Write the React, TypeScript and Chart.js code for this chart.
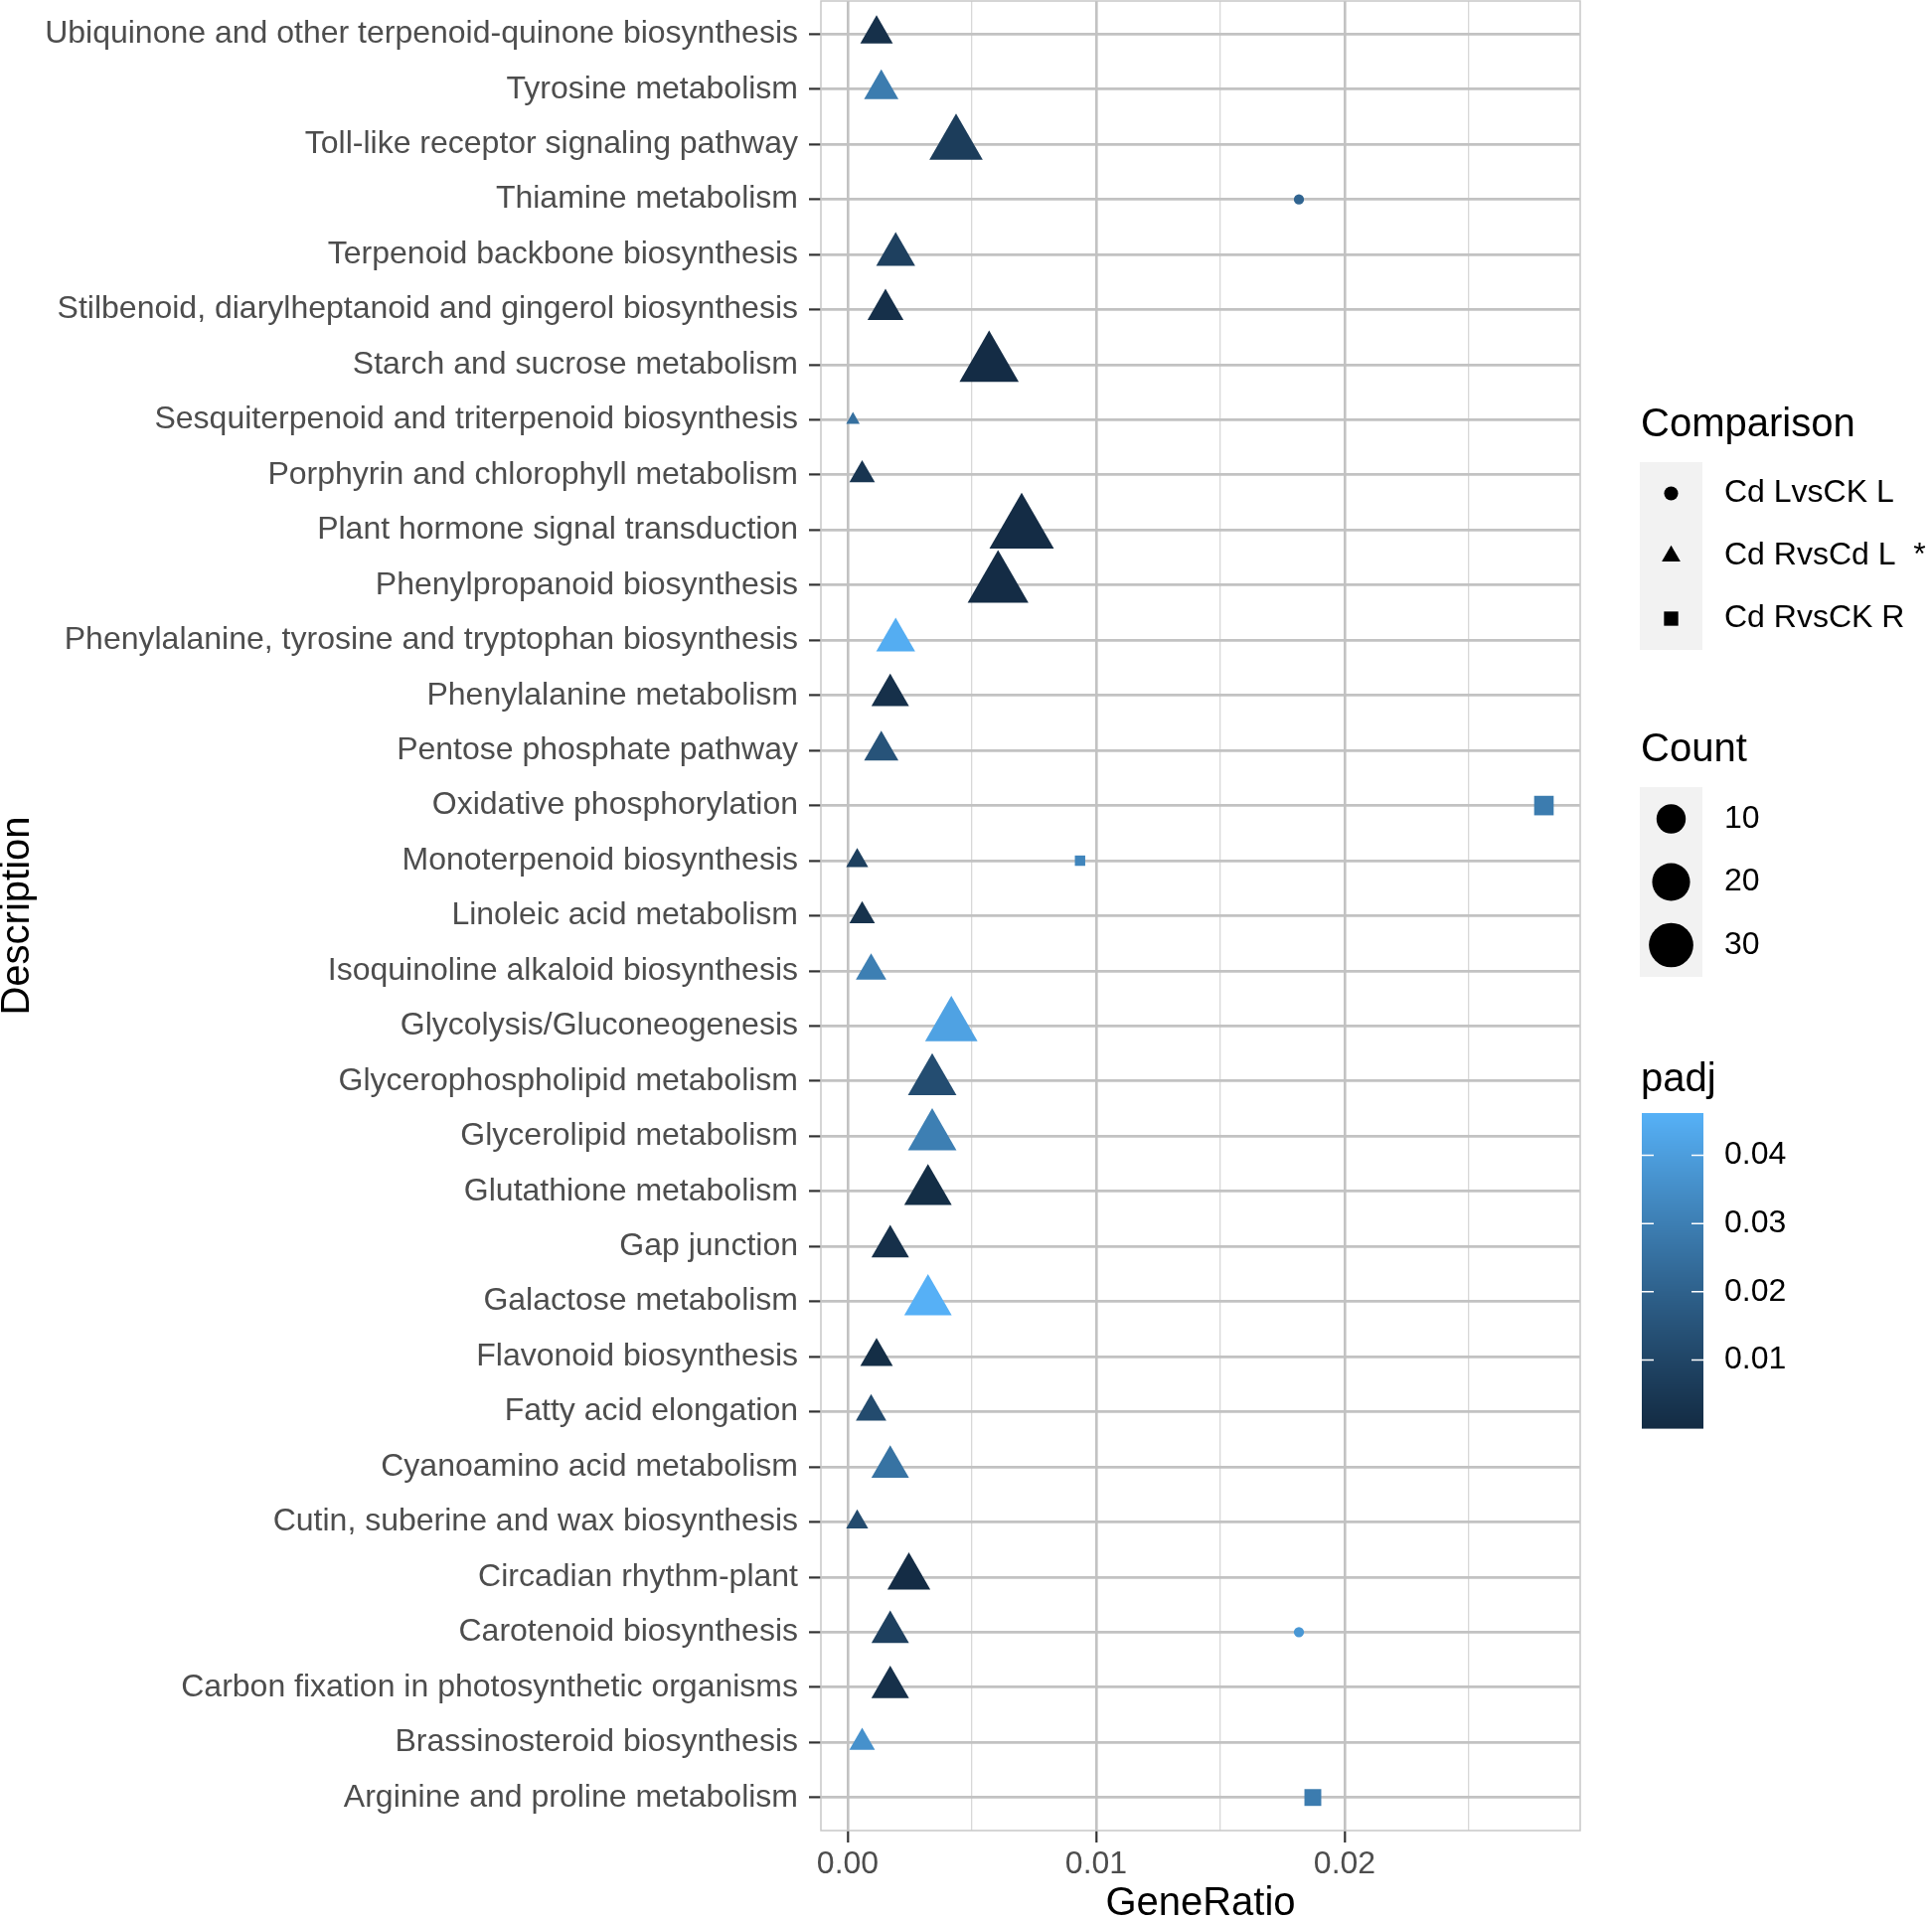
import React, { useEffect, useRef } from "react";
import { Chart, registerables } from "chart.js";

Chart.register(...registerables);

const FONT = "'Liberation Sans', Arial, Helvetica, sans-serif";

// Categories, bottom (y = 1) to top (y = 33)
const descriptions: string[] = [
  "Arginine and proline metabolism",
  "Brassinosteroid biosynthesis",
  "Carbon fixation in photosynthetic organisms",
  "Carotenoid biosynthesis",
  "Circadian rhythm-plant",
  "Cutin, suberine and wax biosynthesis",
  "Cyanoamino acid metabolism",
  "Fatty acid elongation",
  "Flavonoid biosynthesis",
  "Galactose metabolism",
  "Gap junction",
  "Glutathione metabolism",
  "Glycerolipid metabolism",
  "Glycerophospholipid metabolism",
  "Glycolysis/Gluconeogenesis",
  "Isoquinoline alkaloid biosynthesis",
  "Linoleic acid metabolism",
  "Monoterpenoid biosynthesis",
  "Oxidative phosphorylation",
  "Pentose phosphate pathway",
  "Phenylalanine metabolism",
  "Phenylalanine, tyrosine and tryptophan biosynthesis",
  "Phenylpropanoid biosynthesis",
  "Plant hormone signal transduction",
  "Porphyrin and chlorophyll metabolism",
  "Sesquiterpenoid and triterpenoid biosynthesis",
  "Starch and sucrose metabolism",
  "Stilbenoid, diarylheptanoid and gingerol biosynthesis",
  "Terpenoid backbone biosynthesis",
  "Thiamine metabolism",
  "Toll-like receptor signaling pathway",
  "Tyrosine metabolism",
  "Ubiquinone and other terpenoid-quinone biosynthesis",
];

// Comparison "Cd RvsCd L" (triangles)
const triDesc: string[] = [
  "Ubiquinone and other terpenoid-quinone biosynthesis",
  "Tyrosine metabolism",
  "Toll-like receptor signaling pathway",
  "Terpenoid backbone biosynthesis",
  "Stilbenoid, diarylheptanoid and gingerol biosynthesis",
  "Starch and sucrose metabolism",
  "Sesquiterpenoid and triterpenoid biosynthesis",
  "Porphyrin and chlorophyll metabolism",
  "Plant hormone signal transduction",
  "Phenylpropanoid biosynthesis",
  "Phenylalanine, tyrosine and tryptophan biosynthesis",
  "Phenylalanine metabolism",
  "Pentose phosphate pathway",
  "Monoterpenoid biosynthesis",
  "Linoleic acid metabolism",
  "Isoquinoline alkaloid biosynthesis",
  "Glycolysis/Gluconeogenesis",
  "Glycerophospholipid metabolism",
  "Glycerolipid metabolism",
  "Glutathione metabolism",
  "Gap junction",
  "Galactose metabolism",
  "Flavonoid biosynthesis",
  "Fatty acid elongation",
  "Cyanoamino acid metabolism",
  "Cutin, suberine and wax biosynthesis",
  "Circadian rhythm-plant",
  "Carotenoid biosynthesis",
  "Carbon fixation in photosynthetic organisms",
  "Brassinosteroid biosynthesis",
];
const triRatio: number[] = [
  0.00116, 0.00135, 0.00436, 0.00193, 0.00152, 0.00569, 0.00021, 0.00058, 0.007, 0.00605,
  0.00193, 0.00171, 0.00135, 0.00038, 0.00058, 0.00094, 0.00417, 0.0034, 0.0034, 0.00323,
  0.00171, 0.00323, 0.00116, 0.00094, 0.00171, 0.00038, 0.00246, 0.00171, 0.00171, 0.00058,
];
const triCount: number[] = [
  6, 7, 23, 10, 8, 30, 1, 3, 37, 32,
  10, 9, 7, 2, 3, 5, 22, 18, 18, 17,
  9, 17, 6, 5, 9, 2, 13, 9, 9, 3,
];
const triPadj: number[] = [
  0.002, 0.029, 0.007, 0.008, 0.002, 0.0005, 0.025, 0.004, 0.0005, 0.0005,
  0.045, 0.002, 0.015, 0.008, 0.003, 0.03, 0.0415, 0.013, 0.03, 0.001,
  0.002, 0.046, 0.001, 0.012, 0.026, 0.012, 0.0005, 0.008, 0.002, 0.036,
];

// Comparison "Cd LvsCK L" (circles)
const circDesc: string[] = ["Thiamine metabolism", "Carotenoid biosynthesis"];
const circRatio: number[] = [0.01816, 0.01816];
const circCount: number[] = [1, 1];
const circPadj: number[] = [0.021, 0.038];

// Comparison "Cd RvsCK R" (squares)
const sqDesc: string[] = ["Oxidative phosphorylation", "Monoterpenoid biosynthesis", "Arginine and proline metabolism"];
const sqRatio: number[] = [0.02802, 0.00935, 0.01872];
const sqCount: number[] = [3, 1, 2];
const sqPadj: number[] = [0.029, 0.032, 0.029];

// Scales / legends
const xMajorTicks: number[] = [0, 0.01, 0.02];
const xTickLabels: string[] = ["0.00", "0.01", "0.02"];
const xMinorTicks: number[] = [0.005, 0.015, 0.025];
const comparisonLabels: string[] = ["Cd LvsCK L", "Cd RvsCd L  *", "Cd RvsCK R"];
const countBreaks: number[] = [10, 20, 30];
const countRange: number[] = [1, 37];
const padjBreaks: number[] = [0.01, 0.02, 0.03, 0.04];
const padjLabels: string[] = ["0.01", "0.02", "0.03", "0.04"];
const padjLimits: number[] = [0, 0.0462];
const lowColor = "#132B43";
const highColor = "#56B1F7";

// ---- colour helpers (Lab interpolation like ggplot's seq_gradient) ----
function hexToRgb(h: string) {
  const n = parseInt(h.slice(1), 16);
  return [(n >> 16) & 255, (n >> 8) & 255, n & 255];
}
function rgbToLab(rgb: number[]) {
  const lin = rgb.map((c) => {
    const v = c / 255;
    return v <= 0.04045 ? v / 12.92 : Math.pow((v + 0.055) / 1.055, 2.4);
  });
  const X = (0.4124 * lin[0] + 0.3576 * lin[1] + 0.1805 * lin[2]) / 0.95047;
  const Y = 0.2126 * lin[0] + 0.7152 * lin[1] + 0.0722 * lin[2];
  const Z = (0.0193 * lin[0] + 0.1192 * lin[1] + 0.9505 * lin[2]) / 1.08883;
  const f = (t: number) => (t > 0.008856 ? Math.cbrt(t) : 7.787 * t + 16 / 116);
  const fx = f(X), fy = f(Y), fz = f(Z);
  return [116 * fy - 16, 500 * (fx - fy), 200 * (fy - fz)];
}
function labToRgb(lab: number[]) {
  const fy = (lab[0] + 16) / 116;
  const fx = fy + lab[1] / 500;
  const fz = fy - lab[2] / 200;
  const inv = (t: number) => (t * t * t > 0.008856 ? t * t * t : (t - 16 / 116) / 7.787);
  const X = inv(fx) * 0.95047, Y = inv(fy), Z = inv(fz) * 1.08883;
  const r = 3.2406 * X - 1.5372 * Y - 0.4986 * Z;
  const g = -0.9689 * X + 1.8758 * Y + 0.0415 * Z;
  const b = 0.0557 * X - 0.204 * Y + 1.057 * Z;
  return [r, g, b].map((v) => {
    const c = v <= 0.0031308 ? 12.92 * v : 1.055 * Math.pow(v, 1 / 2.4) - 0.055;
    return Math.max(0, Math.min(255, Math.round(c * 255)));
  });
}
const labLow = rgbToLab(hexToRgb(lowColor));
const labHigh = rgbToLab(hexToRgb(highColor));
function padjColor(v: number) {
  let t = (v - padjLimits[0]) / (padjLimits[1] - padjLimits[0]);
  t = Math.max(0, Math.min(1, t));
  const lab = [0, 1, 2].map((i) => labLow[i] + (labHigh[i] - labLow[i]) * t);
  const c = labToRgb(lab);
  return `rgb(${c[0]},${c[1]},${c[2]})`;
}

// ggplot-like size mapping (area scale, range 1..6) -> font size in pt
function sizeF(count: number) {
  const s = 1 + 5 * Math.sqrt((count - countRange[0]) / (countRange[1] - countRange[0]));
  return 2.845 * s + 0.945;
}
const F_LEGEND_SHAPE = 2.845 * 1.5 + 0.945;

function yOf(desc: string) {
  return descriptions.indexOf(desc) + 1;
}

function drawShape(ctx: CanvasRenderingContext2D, shape: string, x: number, y: number, f: number) {
  ctx.beginPath();
  if (shape === "circle") {
    ctx.arc(x, y, 1.35 * f, 0, Math.PI * 2);
  } else if (shape === "triangle") {
    const r = 2.08 * f;
    ctx.moveTo(x, y - r);
    ctx.lineTo(x + r * Math.sin((2 * Math.PI) / 3), y + r / 2);
    ctx.lineTo(x - r * Math.sin((2 * Math.PI) / 3), y + r / 2);
    ctx.closePath();
  } else {
    const side = 2.75 * f;
    ctx.rect(x - side / 2, y - side / 2, side, side);
  }
  ctx.fill();
}

const ggPlugin = {
  id: "ggDecor",
  afterDraw(chart: any) {
    const ctx: CanvasRenderingContext2D = chart.ctx;
    const ca = chart.chartArea;
    ctx.save();
    // panel border
    ctx.strokeStyle = "#C8C8C8";
    ctx.lineWidth = 1.5;
    ctx.strokeRect(ca.left, ca.top, ca.right - ca.left, ca.bottom - ca.top);

    ctx.textAlign = "left";
    ctx.textBaseline = "middle";

    // Comparison legend
    ctx.fillStyle = "#000";
    ctx.font = `40px ${FONT}`;
    ctx.fillText("Comparison", 1651, 428);
    ctx.fillStyle = "#F2F2F2";
    ctx.fillRect(1650, 465, 63, 189);
    const shapes = ["circle", "triangle", "rect"];
    ctx.font = `32px ${FONT}`;
    comparisonLabels.forEach((lab, i) => {
      const cy = 496.5 + i * 63;
      ctx.fillStyle = "#000";
      drawShape(ctx, shapes[i], 1681.5, cy, F_LEGEND_SHAPE);
      ctx.fillText(lab, 1735, cy);
    });

    // Count legend
    ctx.font = `40px ${FONT}`;
    ctx.fillText("Count", 1651, 755);
    ctx.fillStyle = "#F2F2F2";
    ctx.fillRect(1650, 792, 63, 191);
    ctx.font = `32px ${FONT}`;
    countBreaks.forEach((c, i) => {
      const cy = 824 + i * 63.5;
      ctx.fillStyle = "#000";
      drawShape(ctx, "circle", 1681.5, cy, sizeF(c));
      ctx.fillText(String(c), 1735, cy);
    });

    // padj colourbar
    ctx.fillStyle = "#000";
    ctx.font = `40px ${FONT}`;
    ctx.fillText("padj", 1651, 1087);
    const top = 1120, bottom = 1437, left = 1652, w = 62;
    const h = bottom - top;
    for (let i = 0; i < h; i++) {
      const v = padjLimits[1] - ((i + 0.5) / h) * (padjLimits[1] - padjLimits[0]);
      ctx.fillStyle = padjColor(v);
      ctx.fillRect(left, top + i, w, 1.6);
    }
    ctx.strokeStyle = "#FFFFFF";
    ctx.lineWidth = 1.5;
    ctx.font = `32px ${FONT}`;
    padjBreaks.forEach((v, i) => {
      const y = bottom - ((v - padjLimits[0]) / (padjLimits[1] - padjLimits[0])) * h;
      ctx.beginPath();
      ctx.moveTo(left, y);
      ctx.lineTo(left + 12, y);
      ctx.moveTo(left + w - 12, y);
      ctx.lineTo(left + w, y);
      ctx.stroke();
      ctx.fillStyle = "#000";
      ctx.fillText(padjLabels[i], 1735, y);
    });
    ctx.restore();
  },
};

function isMajor(v: number) {
  return xMajorTicks.some((m) => Math.abs(m - v) < 1e-9);
}

const zeroPad = () => ({ left: 0, top: 0, right: 0, bottom: 0 });

export default function App() {
  const ref = useRef<HTMLCanvasElement | null>(null);
  useEffect(() => {
    if (!ref.current) return;
    const mk = (desc: string[], ratio: number[]) => desc.map((d, i) => ({ x: ratio[i], y: yOf(d) }));
    const chart = new Chart(ref.current, {
      type: "scatter",
      data: {
        datasets: [
          {
            label: comparisonLabels[0],
            data: mk(circDesc, circRatio),
            pointStyle: "circle",
            pointRadius: (c: any) => 1.35 * sizeF(circCount[c.dataIndex]),
            backgroundColor: (c: any) => padjColor(circPadj[c.dataIndex]),
            borderWidth: 0,
          },
          {
            label: comparisonLabels[1],
            data: mk(triDesc, triRatio),
            pointStyle: "triangle",
            pointRadius: (c: any) => 2.08 * sizeF(triCount[c.dataIndex]),
            backgroundColor: (c: any) => padjColor(triPadj[c.dataIndex]),
            borderWidth: 0,
          },
          {
            label: comparisonLabels[2],
            data: mk(sqDesc, sqRatio),
            pointStyle: "rect",
            pointRadius: (c: any) => 1.945 * sizeF(sqCount[c.dataIndex]),
            backgroundColor: (c: any) => padjColor(sqPadj[c.dataIndex]),
            borderWidth: 0,
          },
        ] as any,
      },
      options: {
        animation: false,
        responsive: false,
        events: [],
        layout: { autoPadding: false, padding: { left: 0, top: 1, right: 354, bottom: 0 } },
        plugins: { legend: { display: false }, tooltip: { enabled: false } },
        scales: {
          x: {
            type: "linear",
            min: -0.00108,
            max: 0.02948,
            afterBuildTicks: (s: any) => {
              s.ticks = [...xMajorTicks, ...xMinorTicks].sort((a, b) => a - b).map((v) => ({ value: v }));
            },
            afterFit: (s: any) => {
              s.height = 91;
              s.paddingLeft = 0;
              s.paddingRight = 0;
              s.paddingTop = 0;
              s.paddingBottom = 0;
              s.getPadding = zeroPad;
            },
            ticks: {
              autoSkip: false,
              maxRotation: 0,
              padding: 3,
              color: "#4D4D4D",
              font: { family: FONT, size: 32 },
              callback: (v: any) => {
                const idx = xMajorTicks.findIndex((m) => Math.abs(m - v) < 1e-9);
                return idx >= 0 ? xTickLabels[idx] : "";
              },
            },
            grid: {
              drawTicks: true,
              tickLength: 12,
              color: (c: any) => (c.tick && isMajor(c.tick.value) ? "#C2C2C2" : "#D8D8D8"),
              lineWidth: (c: any) => (c.tick && isMajor(c.tick.value) ? 2.6 : 1.3),
              tickColor: (c: any) => (c.tick && isMajor(c.tick.value) ? "#333333" : "rgba(0,0,0,0)"),
              tickWidth: 2.2,
            },
            border: { display: false },
            title: {
              display: true,
              text: "GeneRatio",
              color: "#000",
              font: { family: FONT, size: 40, lineHeight: 0.85 },
              padding: { top: 0, bottom: 0 },
            },
          },
          y: {
            type: "linear",
            min: 0.4,
            max: descriptions.length + 0.6,
            afterBuildTicks: (s: any) => {
              s.ticks = descriptions.map((_, i) => ({ value: i + 1 }));
            },
            afterFit: (s: any) => {
              s.width = 826;
              s.paddingTop = 0;
              s.paddingBottom = 0;
              s.paddingLeft = 0;
              s.paddingRight = 0;
              s.getPadding = zeroPad;
            },
            ticks: {
              autoSkip: false,
              padding: 11,
              color: "#4D4D4D",
              font: { family: FONT, size: 32 },
              callback: (v: any) => descriptions[Math.round(v) - 1] ?? "",
            },
            grid: {
              drawTicks: true,
              tickLength: 12,
              color: "#C2C2C2",
              lineWidth: 2.8,
              tickColor: "#333333",
              tickWidth: 2.2,
            },
            border: { display: false },
            title: {
              display: true,
              text: "Description",
              color: "#000",
              font: { family: FONT, size: 40, lineHeight: 0.9 },
              padding: { top: 0, bottom: 0 },
            },
          },
        },
      } as any,
      plugins: [ggPlugin],
    });
    return () => chart.destroy();
  }, []);
  return (
    <div style={{ position: "absolute", left: 0, top: 0, width: 1944, height: 1933, background: "#fff" }}>
      <canvas ref={ref} width={1944} height={1933} />
    </div>
  );
}
